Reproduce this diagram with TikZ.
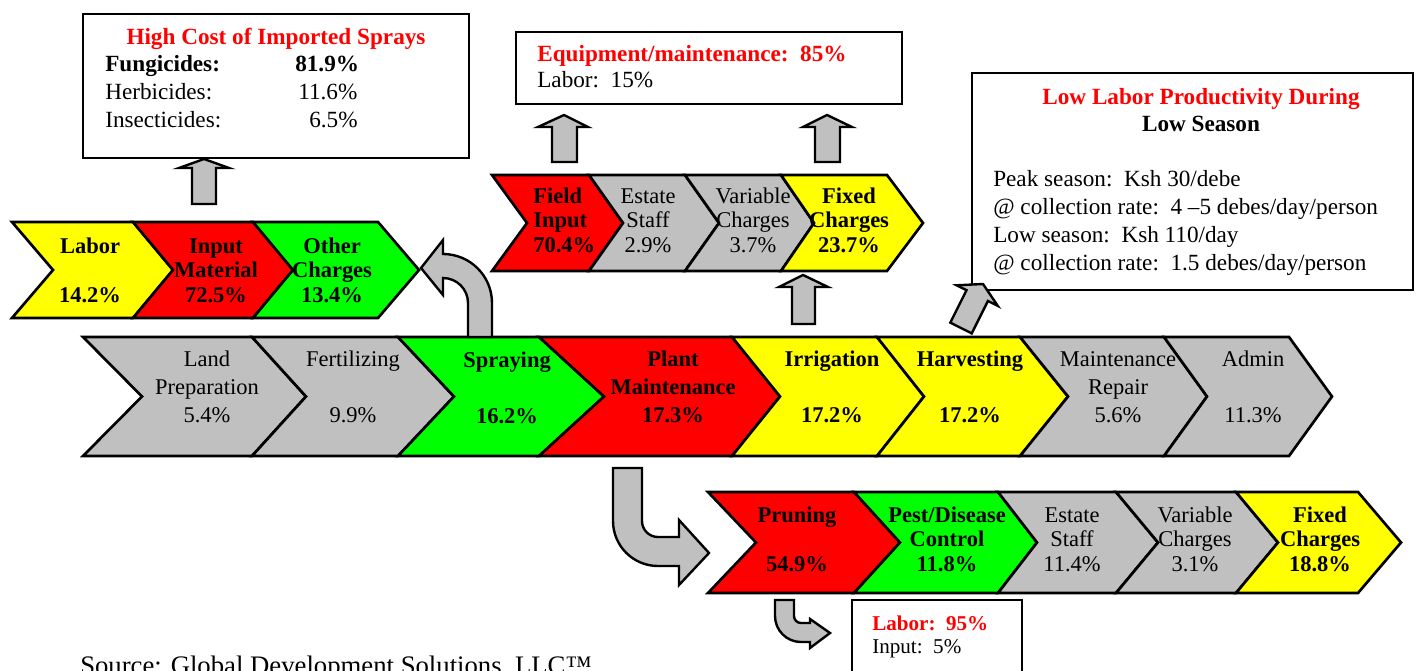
\documentclass[tikz,border=0pt]{standalone}
\usepackage{fontspec}
\setmainfont{Liberation Serif}
\usetikzlibrary{fit}
\definecolor{rojo}{RGB}{255,0,0}
\definecolor{verde}{RGB}{0,255,0}
\definecolor{amarillo}{RGB}{255,255,0}
\definecolor{gris}{RGB}{192,192,192}
\begin{document}
\begin{tikzpicture}[
x=0.25mm, y=-0.25mm,
etapa/.style={draw, line width=1.9pt},
caja/.style={draw, line width=1.9pt, fill=white, inner sep=0pt},
flecha/.style={draw, line width=1.7pt, fill=gris},
etq/.style={font=\fontsize{16pt}{6.9mm}\selectfont, align=center, inner sep=0pt, anchor=base},
etqn/.style={etq, font=\fontsize{16pt}{6.9mm}\selectfont\bfseries},
etqc/.style={etq, font=\fontsize{16pt}{6.1mm}\selectfont},
etqcn/.style={etq, font=\fontsize{16pt}{6.1mm}\selectfont\bfseries},
nota/.style={font=\fontsize{16.5pt}{6.95mm}\selectfont, align=left, inner sep=0pt, anchor=base west},
titulo/.style={font=\fontsize{16.5pt}{6.75mm}\selectfont\bfseries, align=center, inner sep=0pt, anchor=base}
]
\path[use as bounding box, fill=white] (0,0) rectangle (1416,671);
% Cajas (los textos de varias lineas se anclan en su ultima linea)
\node[caja, fit={(83,14) (469,158)}] (cajarocio) {};
\node[caja, fit={(516,32) (902,104)}] (cajaequipo) {};
\node[caja, fit={(972,73) (1413,290)}] (cajaproductividad) {};
\node[caja, fit={(852,600) (1022,690)}] (cajapoda) {};
\node[titulo, text=rojo] (titrocio) at (276,45) {High Cost of Imported Sprays};
\node[nota, font=\fontsize{16.5pt}{7mm}\selectfont] (detrocio) at (105,128) {\makebox[47.5mm][l]{\textbf{Fungicides:}}\textbf{81.9\%}\\\makebox[48.25mm][l]{Herbicides:}11.6\%\\\makebox[51mm][l]{Insecticides:}6.5\%};
\node[nota, font=\fontsize{16.5pt}{6.5mm}\selectfont] (detequipo) at (537,88) {\textcolor{rojo}{\textbf{Equipment/maintenance:\ \ 85\%}}\\Labor:\ \ 15\%};
\node[titulo] (titproductividad) at (1201,132) {\textcolor{rojo}{Low Labor Productivity During}\\Low Season};
\node[nota] (detproductividad) at (993,270) {Peak season:\ \ Ksh 30/debe\\@ collection rate:\ \ 4 –5 debes/day/person\\Low season:\ \ Ksh 110/day\\@ collection rate:\ \ 1.5 debes/day/person};
\node[nota, font=\fontsize{15pt}{5.75mm}\selectfont] (detpoda) at (872,653) {\textcolor{rojo}{\textbf{Labor:\ \ 95\%}}\\Input:\ \ 5\%};
% Cadena principal
\draw[etapa, fill=gris] (83,337) -- (252,337) -- (306,396.5) -- (252,456) -- (83,456) -- (142,396.5) -- cycle;
\draw[etapa, fill=gris] (252,337) -- (398,337) -- (454,396.5) -- (398,456) -- (252,456) -- (306,396.5) -- cycle;
\draw[etapa, fill=verde] (398,337) -- (539,337) -- (604,396.5) -- (539,456) -- (398,456) -- (454,396.5) -- cycle;
\draw[etapa, fill=rojo] (539,337) -- (732,337) -- (780,396.5) -- (732,456) -- (539,456) -- (604,396.5) -- cycle;
\draw[etapa, fill=amarillo] (732,337) -- (877,337) -- (924,396.5) -- (877,456) -- (732,456) -- (780,396.5) -- cycle;
\draw[etapa, fill=amarillo] (877,337) -- (1020,337) -- (1068,396.5) -- (1020,456) -- (877,456) -- (924,396.5) -- cycle;
\draw[etapa, fill=gris] (1020,337) -- (1164,337) -- (1207,396.5) -- (1164,456) -- (1020,456) -- (1068,396.5) -- cycle;
\draw[etapa, fill=gris] (1164,337) -- (1289,337) -- (1332,396.5) -- (1289,456) -- (1164,456) -- (1207,396.5) -- cycle;
\node[etq] (tierra) at (207,422) {Land\\Preparation\\5.4\%};
\node[etq] (fertil) at (353,422) {Fertilizing\\[6.9mm]9.9\%};
\node[etqn] (rocio) at (507,423) {Spraying\\[6.9mm]16.2\%};
\node[etqn] (planta) at (673,422) {Plant\\Maintenance\\17.3\%};
\node[etqn] (riego) at (832,422) {Irrigation\\[6.9mm]17.2\%};
\node[etqn] (cosecha) at (970,422) {Harvesting\\[6.9mm]17.2\%};
\node[etq] (mantrep) at (1118,422) {Maintenance\\Repair\\5.6\%};
\node[etq] (admin) at (1253,422) {Admin\\[6.9mm]11.3\%};
% Costos de rociado
\draw[etapa, fill=amarillo] (12,222) -- (133,222) -- (173,270) -- (133,318) -- (12,318) -- (53,270) -- cycle;
\draw[etapa, fill=rojo] (133,222) -- (253,222) -- (293,270) -- (253,318) -- (133,318) -- (173,270) -- cycle;
\draw[etapa, fill=verde] (253,222) -- (378,222) -- (419,270) -- (378,318) -- (253,318) -- (293,270) -- cycle;
\node[etqcn] (mano) at (90,302) {Labor\\[6.1mm]14.2\%};
\node[etqcn] (insumo) at (216,302) {Input\\Material\\72.5\%};
\node[etqcn] (otros) at (332,302) {Other\\Charges\\13.4\%};
% Costos de riego
\draw[etapa, fill=rojo] (492,175) -- (589,175) -- (623,223) -- (589,271) -- (492,271) -- (527,223) -- cycle;
\draw[etapa, fill=gris] (589,175) -- (685,175) -- (719,223) -- (685,271) -- (589,271) -- (623,223) -- cycle;
\draw[etapa, fill=gris] (685,175) -- (781,175) -- (814,223) -- (781,271) -- (685,271) -- (719,223) -- cycle;
\draw[etapa, fill=amarillo] (781,175) -- (887,175) -- (923,223) -- (887,271) -- (781,271) -- (814,223) -- cycle;
\node[etqcn, align=left, anchor=base west] (campo) at (533,252) {Field\\Input\\70.4\%};
\node[etqc] (personal) at (648,252) {Estate\\Staff\\2.9\%};
\node[etqc] (variables) at (753,252) {Variable\\Charges\\3.7\%};
\node[etqcn] (fijos) at (849,252) {Fixed\\Charges\\23.7\%};
% Costos de mantenimiento
\draw[etapa, fill=rojo] (708,492) -- (854,492) -- (900,542.5) -- (854,593) -- (708,593) -- (756,542.5) -- cycle;
\draw[etapa, fill=verde] (854,492) -- (998,492) -- (1037,542.5) -- (998,593) -- (854,593) -- (900,542.5) -- cycle;
\draw[etapa, fill=gris] (998,492) -- (1116,492) -- (1158,542.5) -- (1116,593) -- (998,593) -- (1037,542.5) -- cycle;
\draw[etapa, fill=gris] (1116,492) -- (1236,492) -- (1278,542.5) -- (1236,593) -- (1116,593) -- (1158,542.5) -- cycle;
\draw[etapa, fill=amarillo] (1236,492) -- (1358,492) -- (1401,542.5) -- (1358,593) -- (1236,593) -- (1278,542.5) -- cycle;
\node[etqcn] (poda) at (797,571) {Pruning\\[6.1mm]54.9\%};
\node[etqcn] (plagas) at (947,571) {Pest/Disease\\Control\\11.8\%};
\node[etqc] (personal2) at (1072,571) {Estate\\Staff\\11.4\%};
\node[etqc] (variables2) at (1195,571) {Variable\\Charges\\3.1\%};
\node[etqcn] (fijos2) at (1320,571) {Fixed\\Charges\\18.8\%};
% Flechas
\draw[flecha] (192,204) -- (192,168) -- (179,168) -- (204,159) -- (229,168) -- (216,168) -- (216,204) -- cycle;
\draw[flecha] (552,162) -- (552,127) -- (538,127) -- (564,115) -- (588,127) -- (577,127) -- (577,162) -- cycle;
\draw[flecha] (815,162) -- (815,127) -- (803,127) -- (827,115) -- (852,127) -- (840,127) -- (840,162) -- cycle;
\draw[flecha] (792,324) -- (792,287) -- (779,287) -- (803,275) -- (828,287) -- (815,287) -- (815,324) -- cycle;
\draw[flecha] (950.3,322.6) -- (966.5,290.2) -- (956.6,285.3) -- (983,284) -- (997.8,305.9) -- (987.9,301) -- (971.7,333.4) -- cycle;
\draw[flecha] (468,337) -- (468,303) arc[start angle=0, end angle=90, radius=6.25mm] -- (443,295) -- (421,268) -- (443,240) -- (443,254) arc[start angle=90, end angle=0, radius=12.25mm] -- (492,337) -- cycle;
\draw[flecha] (613,468) -- (613,521) arc[start angle=180, end angle=270, radius=11.25mm] -- (679,566) -- (679,585) -- (709,553) -- (679,520) -- (679,537) -- (658,537) arc[start angle=270, end angle=180, radius=4mm] -- (642,468) -- cycle;
\draw[flecha] (775,600) -- (775,616) arc[start angle=180, end angle=270, radius=6.5mm] -- (810,642) -- (810,648) -- (830,633) -- (810,619) -- (810,623) -- (801,623) arc[start angle=270, end angle=180, radius=1.75mm] -- (794,600) -- cycle;
% Fuente
\node[anchor=base west, inner sep=0pt, font=\fontsize{19pt}{21pt}\selectfont] (fuente) at (80,674) {Source: Global Development Solutions, LLC™};
\end{tikzpicture}
\end{document}
